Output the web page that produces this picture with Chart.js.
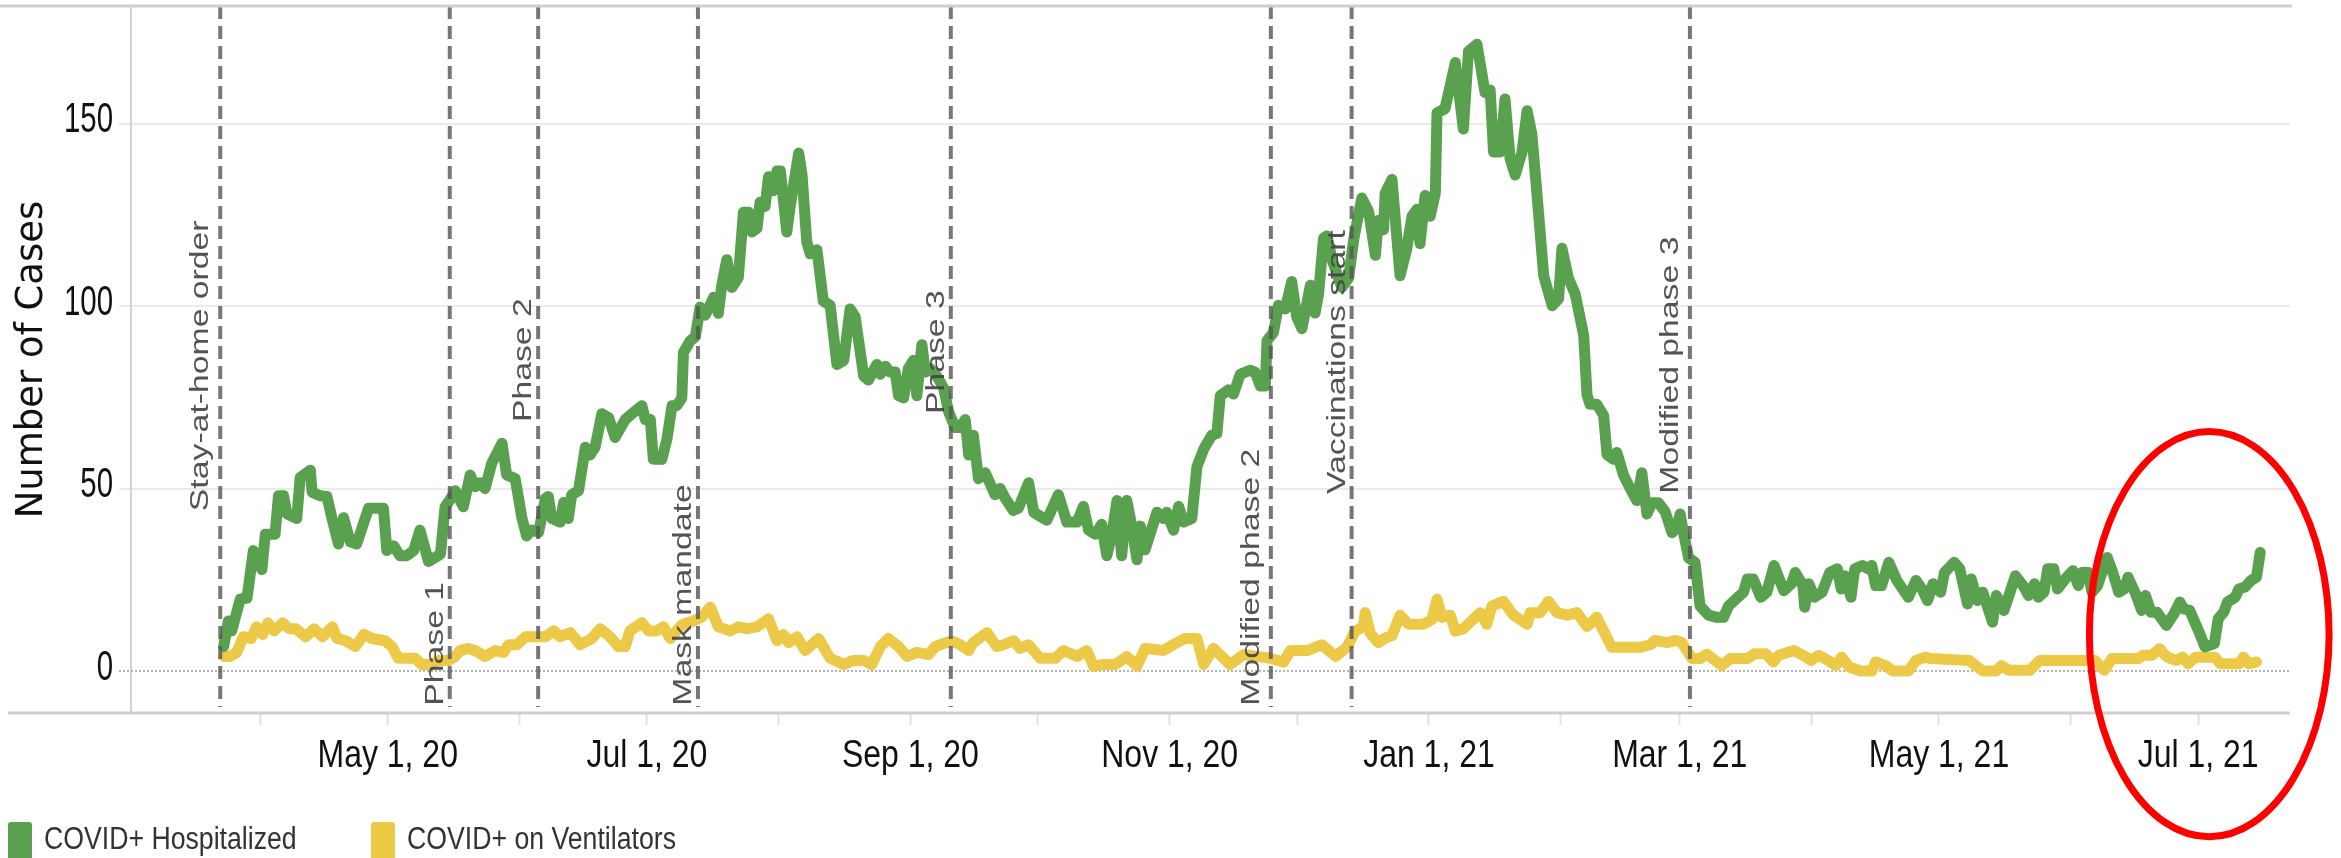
<!DOCTYPE html>
<html>
<head>
<meta charset="utf-8">
<title>COVID+ hospital census</title>
<script src="https://cdn.jsdelivr.net/npm/chart.js@4.4.1/dist/chart.umd.min.js"></script>
<style>
  html, body { margin: 0; padding: 0; background: #fff; }
  canvas { display: block; }
</style>
</head>
<body>
<canvas id="chart" width="2341" height="858"></canvas>
<script>
// x values are days since 1 Mar 2020
const hospDays = [
  22.4, 23.5, 24.3, 26.3, 27.9, 29.4, 31.4, 32.2, 34.5, 35.3,
  36.5, 37.3, 39.6, 40.4, 42.8, 43.2, 45.1, 46.7, 47.9, 49.4,
  50.6, 52.2, 53.7, 56.5, 60, 60.8, 62.4, 63.9, 65.5, 67.1,
  68.6, 70.6, 73.4, 74.5, 75.7, 76.9, 78.8, 80.4, 81.6, 82.8,
  83.9, 85.5, 87.9, 89, 91, 92.6, 93.7, 94.9, 96.5, 98.1,
  98.8, 99.6, 101.6, 102.4, 103.5, 104.3, 105.9, 107.5, 108.6, 109.8,
  111.4, 113, 114.5, 116.9, 118.5, 120.8, 121.6, 122.8, 123.5, 125.5,
  126.7, 127.9, 129, 130.2, 130.6, 132.2, 133.4, 134.5, 135.7, 137.7,
  138.8, 139.6, 140.8, 142, 143.5, 144.7, 145.9, 146.7, 147.9, 148.6,
  149.8, 150.6, 151.8, 152.6, 153.4, 154.9, 155.7, 157.7, 158.5, 159.6,
  160.4, 162, 163.5, 165.1, 166.7, 168.3, 169.8, 171, 173, 174.1,
  176.1, 176.9, 178.1, 179.2, 180.4, 181.2, 182.4, 183.5, 184.7, 185.5,
  186.7, 187.5, 188.6, 190.2, 191.8, 193, 194.5, 195.7, 196.9, 197.7,
  198.8, 200, 201.6, 203.9, 205.1, 206.3, 208.2, 209.4, 211.8, 213,
  214.5, 216.1, 218.8, 220.8, 223.2, 224.7, 225.9, 227.5, 229, 230.2,
  231.4, 232.6, 233.7, 234.9, 236.1, 237.3, 238.1, 239.2, 242, 243.5,
  244.3, 245.9, 247.1, 248.3, 250.2, 251.4, 253, 254.9, 256.1, 256.9,
  258.8, 260, 261.6, 263.9, 265.1, 266.3, 267.5, 267.9, 269.4, 270.6,
  272.2, 273.7, 274.9, 276.1, 278.1, 279.2, 280, 281.2, 282, 283.2,
  285.5, 287.1, 288.3, 290.2, 291.8, 293.4, 294.1, 295.3, 295.7, 297.3,
  299.2, 300.8, 302, 303.2, 303.9, 305.1, 306.3, 307.5, 307.9, 309.8,
  312.2, 314.1, 315.3, 317.3, 319.2, 320.4, 321.2, 322.8, 323.9, 325.1,
  326.3, 327.9, 329.1, 330.2, 331.4, 333, 335, 336.5, 337.3, 338.8,
  340.4, 342.4, 343.2, 343.9, 345.5, 347.1, 347.9, 349.4, 350.2, 351.8,
  353.4, 354.9, 356.1, 357.3, 358.5, 360, 361.6, 363.2, 364.3, 365.1,
  365.9, 367.1, 368.6, 369.8, 371.8, 373.7, 375.3, 376.5, 378.7, 380,
  380.9, 382.3, 384.1, 385.5, 387.2, 389.5, 391.3, 392.2, 394, 394.4,
  395.4, 396.7, 398.5, 400.3, 402.1, 403, 403.9, 405.3, 406.2, 408,
  409.3, 410.2, 411.1, 412.5, 414.2, 416.1, 418.8, 420.6, 422, 423.3,
  424.6, 426.4, 427.3, 429.6, 430.9, 432.7, 433.6, 435, 436.3, 438.6,
  439.5, 441.3, 444, 445.8, 447.1, 448.5, 449.4, 450.7, 451.6, 453,
  453.9, 455.7, 457.5, 458.8, 459.7, 461.1, 462, 463.3, 465.6, 466.9,
  468.3, 469.6, 470.5, 472.3, 473.7, 474.6, 475.9, 477.3, 479.5, 481.3,
  482.7, 483.6, 485, 487.2, 488.6, 490.8, 491.7, 493, 493.9, 495.7,
  496.6, 498, 499.4, 500.7, 501.6
];
const hospCounts = [
  6.7, 13.7, 11, 19.7, 20, 33, 27.8, 37.5, 37.5, 48,
  48, 43, 41.8, 53, 55, 49, 48, 47.8, 41.8, 34.8,
  42, 35.4, 34.8, 44.6, 44.6, 33, 34.3, 31.6, 31.6, 33,
  38.6, 30, 32, 45, 47, 49.4, 45, 53.7, 50.5, 51.6,
  50, 57, 62.4, 53.7, 52.7, 41.8, 37, 38.6, 38, 47.3,
  47.8, 41.8, 40.8, 46.2, 41.8, 48.3, 49.4, 61.3, 59.2, 61.3,
  70.5, 69.4, 64, 68.9, 70.5, 72.7, 68.9, 68.9, 58, 58,
  63.5, 72.7, 72.7, 74.8, 87.3, 90.5, 91.6, 99.7, 97.5, 102.4,
  98, 105.7, 112.7, 105.1, 107.8, 125.7, 125.7, 120.3, 121.3, 128.4,
  127.3, 135.4, 131.6, 137, 137, 120.3, 127.3, 141.9, 135.9, 117.6,
  114.3, 115.4, 101.3, 100.2, 84, 85.1, 99.2, 97, 80.8, 79.7,
  84, 81.3, 83.5, 81.9, 81.9, 75.4, 74.8, 82.9, 85.1, 75.4,
  89.4, 81.9, 82.9, 80.8, 77.5, 71, 66.7, 66.7, 68.9, 59.2,
  64.6, 52.7, 54.3, 48.3, 50, 47.3, 44, 44.6, 51.6, 43.5,
  42.4, 41.3, 48.3, 40.8, 40.8, 45.1, 38.6, 37.5, 40.2, 31.6,
  37.5, 46.7, 31.6, 46.7, 39.7, 30.5, 39.7, 33.2, 43.5, 41.8,
  43.5, 38.6, 45.1, 40.8, 41.8, 55.9, 60.8, 64.6, 65.1, 75.4,
  77, 75.9, 81.3, 82.4, 81.9, 78.1, 78.1, 90.5, 92.7, 100.2,
  99.2, 106.7, 97, 93.8, 105.7, 98.1, 103, 118.6, 119.2, 112.7,
  105.1, 107.7, 118.3, 129.6, 125.9, 113.9, 123.4, 120.9, 130.9, 134.7,
  108.3, 115.8, 124.6, 126.5, 117.1, 130.3, 124.6, 130.9, 152.9, 154.1,
  166.7, 148.5, 169.8, 171.7, 158.5, 159.2, 142.2, 142.2, 156.7, 140.3,
  135.9, 142.2, 153.5, 147.2, 130.9, 108.3, 100.1, 102, 115.8, 107.7,
  103.3, 92, 75.6, 73.1, 73.1, 70, 59.3, 58, 59.9, 53.6,
  49.9, 46.7, 54.3, 43, 46.1, 46.1, 43.6, 37.9, 39.2, 43,
  37.9, 31, 29.8, 17.8, 15.3, 14.7, 14.7, 17.8, 20.2, 21.6,
  25.2, 25.2, 20.2, 21.6, 28.9, 22, 23.9, 27, 23.4, 17.5,
  23.9, 20.2, 21.6, 27, 28, 22.5, 26.1, 20.2, 28, 28.9,
  28, 28.9, 23.4, 23.4, 29.8, 24.8, 20.2, 24.8, 22.5, 19.3,
  23.9, 21.6, 27, 29.8, 28, 18.4, 25.2, 19.3, 21.6, 13.4,
  20.7, 16.6, 26.1, 23.4, 20.7, 23.9, 20.2, 21.6, 28, 28,
  22.5, 25.2, 27.5, 23.4, 27, 27, 21.6, 23.4, 31.1, 27,
  21.6, 22.5, 25.7, 21.1, 16.6, 20.7, 16.1, 16.1, 12.5, 15.7,
  18.9, 17, 16.6, 10.7, 6.6, 7.5, 14.3, 16.1, 18.9, 20.2,
  22.5, 23, 24.8, 25.7, 32.5
];

const ventDays = [
  22.4, 23.9, 25.5, 27, 28.9, 30.1, 31.6, 32.8, 34.3, 36.3,
  37.8, 39.4, 41.7, 43.7, 45.6, 48, 49.1, 51.1, 53.4, 55.4,
  57.3, 60.4, 62, 63.5, 67.5, 69, 71.4, 72.9, 75.3, 76.9,
  78, 80, 81.6, 83.9, 86.3, 88.3, 89.4, 91.4, 93.4, 94.9,
  98.1, 100.1, 101.6, 104, 106.3, 109, 111, 113.3, 115.3, 116.9,
  118, 120.8, 122.4, 124.3, 125.9, 127.5, 130.2, 132.9, 134.9, 136.9,
  138.8, 141.6, 143.5, 145.5, 147.9, 150.6, 152.6, 154.1, 155.3, 157.3,
  159.2, 162.4, 165.1, 168.3, 170.6, 173, 174.9, 176.9, 178.8, 181.2,
  183.2, 185.5, 188.3, 189.8, 191, 193.7, 195.7, 197.7, 198.8, 202,
  204.3, 205.9, 208.3, 209.8, 211.8, 214.5, 218.1, 220, 223.2, 225.5,
  227.1, 229.4, 232.2, 234.9, 237.3, 239.2, 243.5, 246.7, 248.6, 251.4,
  253, 255.3, 259.2, 262.4, 265.5, 268.6, 271.8, 273.4, 277.3, 280.8,
  284, 286.7, 288.6, 290.6, 291, 292.2, 294.1, 295.7, 297.3, 299.2,
  301.2, 304.7, 306.7, 307.9, 309, 311, 312.2, 314.1, 315.7, 318.1,
  319.6, 320.8, 323.5, 325.9, 329.1, 329.8, 332.2, 334.1, 336.1, 338.5,
  340.8, 343.2, 345.5, 349, 355.7, 358.1, 359.2, 362, 364, 365.5,
  367.9, 369.8, 371.4, 374.9, 376.9, 380.9, 382.6, 385.3, 387, 388.3,
  391.9, 394.1, 395.9, 397.7, 399.9, 401.7, 403.1, 404.9, 407.6, 410.2,
  411.1, 413.4, 415.2, 418.8, 420.6, 422.8, 424.1, 433.1, 436.3, 439.4,
  440.7, 442.5, 447.4, 449.7, 462.7, 464.9, 466.7, 473, 473.9, 476.1,
  477.9, 479.7, 481.9, 483.3, 484.6, 486.4, 490.9, 492.2, 496.7, 497.6,
  499, 500.7
];
const ventCounts = [
  4, 4, 5.1, 9.4, 8.9, 12.1, 10, 13.2, 11, 13.2,
  11.6, 11.6, 9.4, 11.6, 9.4, 12.1, 8.9, 8.3, 6.7, 10,
  8.9, 8.3, 6.7, 3.5, 3.5, 1.8, 1.8, 2.9, 2.9, 4,
  5.6, 6.2, 5.6, 4, 5.6, 5.1, 7.2, 7.2, 9.4, 9.4,
  9.4, 11, 9.4, 10.5, 7.2, 8.9, 11.6, 9.4, 6.7, 6.7,
  11, 13.2, 11, 11, 12.1, 8.9, 12.7, 13.7, 14.8, 17.5,
  12.1, 11, 12.1, 11.6, 12.1, 14.3, 8.3, 10, 7.8, 9.4,
  5.6, 8.9, 3.5, 1.8, 2.9, 2.9, 1.8, 6.7, 8.9, 6.7,
  4, 5.1, 4.5, 6.7, 7.2, 8.3, 7.2, 5.6, 7.8, 10.5,
  6.7, 7.2, 8.3, 6.2, 7.2, 3.5, 3.5, 5.6, 4, 5.6,
  1.3, 1.8, 1.8, 4, 1.3, 6.2, 5.6, 7.8, 8.9, 8.9,
  1.8, 6.2, 1.8, 4.5, 4, 3.5, 2.4, 5.6, 5.6, 7.2,
  4, 6.5, 10.9, 12.2, 16, 10.3, 7.8, 9, 9.7, 15.3,
  12.8, 12.8, 14.1, 19.7, 14.7, 15.3, 10.9, 11.6, 13.4, 16,
  12.8, 17.8, 19.1, 15.3, 12.8, 16, 16, 19.1, 16, 15.3,
  16, 12.2, 14.7, 6.5, 6.5, 7.2, 8.4, 7.8, 8.4, 7.8,
  3.4, 3.4, 4.6, 1.5, 3.4, 3.4, 4.7, 4.7, 2.5, 4.3,
  5.6, 4.3, 2.9, 4.3, 2.9, 1.5, 3.8, 1.1, 0, 0,
  2.5, 1.5, 0, 0, 2.9, 3.8, 3.4, 2.9, 0, 0,
  1.5, 0.2, 0.2, 2.9, 2.9, 0.2, 3.4, 3.4, 4.3, 4.3,
  6.1, 3.8, 2.9, 3.8, 2, 3.8, 3.8, 2, 2, 3.8,
  2, 2.5
];

const eventDays = [21.6, 75.6, 96.4, 134, 193.5, 268.8, 287.8, 367.4];
const eventNames = ['Stay-at-home order', 'Phase 1', 'Phase 2', 'Mask mandate',
  'Phase 3', 'Modified phase 2', 'Vaccinations start', 'Modified phase 3'];

const monthStarts = [31, 61, 92, 122, 153, 184, 214, 245, 275, 306, 337, 365, 396, 426, 457, 487];
const monthLabels = ['', 'May 1, 20', '', 'Jul 1, 20', '', 'Sep 1, 20', '', 'Nov 1, 20',
  '', 'Jan 1, 21', '', 'Mar 1, 21', '', 'May 1, 21', '', 'Jul 1, 21'];
const yTicks = [0, 50, 100, 150];

// where each event label starts (value on the y axis)
const eventLabelAt = [43.8, -9.5, 68.2, -9.5, 70.4, -9.5, 48.5, 48.6];
// red highlight ring: centre (day, count) and radii
const ring = { day: 489.6, count: 10.1, rDays: 28.2, rCount: 55.5 };

const SANS = "'Liberation Sans', Arial, sans-serif";

// text squeezed sideways, the reference uses a condensed face
function squeezedText(ctx, text, x, y, sx, align) {
  ctx.save();
  ctx.translate(x, y);
  ctx.scale(sx, 1);
  ctx.textAlign = align;
  ctx.fillText(text, 0, 0);
  ctx.restore();
}

const overlay = {
  id: 'overlay',
  beforeDatasetsDraw(chart) {
    const { ctx, chartArea: a, scales: { y } } = chart;
    const y0 = y.getPixelForValue(0);
    ctx.save();
    ctx.strokeStyle = '#b4b4b4';
    ctx.lineWidth = 2;
    ctx.setLineDash([2, 2]);
    ctx.beginPath();
    ctx.moveTo(a.left - 12, y0);
    ctx.lineTo(a.right, y0);
    ctx.stroke();
    ctx.restore();
  },
  afterDatasetsDraw(chart) {
    const { ctx, chartArea: a, scales: { x, y } } = chart;
    ctx.save();
    // event lines
    ctx.strokeStyle = 'rgba(85,85,85,0.8)';
    ctx.lineWidth = 4;
    ctx.setLineDash([13, 7]);
    eventDays.forEach(d => {
      const px = x.getPixelForValue(d);
      ctx.beginPath();
      ctx.moveTo(px, a.top);
      ctx.lineTo(px, a.bottom - 6);
      ctx.stroke();
    });
    ctx.setLineDash([]);
    // event labels, rotated
    ctx.font = '25px ' + SANS;
    ctx.fillStyle = 'rgba(68,68,68,0.92)';
    ctx.textAlign = 'left';
    ctx.textBaseline = 'alphabetic';
    eventNames.forEach((name, i) => {
      const px = x.getPixelForValue(eventDays[i]);
      const m = ctx.measureText(name);
      const bx = px - 7 - Math.max(0, m.actualBoundingBoxDescent);
      const by = y.getPixelForValue(eventLabelAt[i]);
      ctx.save();
      ctx.translate(bx, by);
      ctx.rotate(-Math.PI / 2);
      ctx.scale(1.35, 1);
      ctx.fillText(name, 0, 0);
      ctx.restore();
    });
    ctx.restore();
  },
  afterDraw(chart) {
    const { ctx, chartArea: a, scales: { x, y } } = chart;
    ctx.save();
    // frame: top rule and long bottom rule
    ctx.strokeStyle = '#cfcfcf';
    ctx.lineWidth = 3;
    ctx.beginPath();
    ctx.moveTo(0, a.top);
    ctx.lineTo(a.right + 2, a.top);
    ctx.moveTo(8, a.bottom);
    ctx.lineTo(a.right, a.bottom);
    ctx.stroke();

    // tick labels
    ctx.fillStyle = '#111';
    ctx.textBaseline = 'alphabetic';
    ctx.font = '39px ' + SANS;
    monthStarts.forEach((d, i) => {
      if (monthLabels[i]) squeezedText(ctx, monthLabels[i], x.getPixelForValue(d), a.bottom + 54, 0.82, 'center');
    });
    ctx.font = '42px ' + SANS;
    ctx.textBaseline = 'middle';
    yTicks.forEach(v => {
      squeezedText(ctx, String(v), a.left - 18, y.getPixelForValue(v) - 3, 0.7, 'right');
    });

    // legend
    const legendX = [8, 371];
    ctx.font = '31px ' + SANS;
    ctx.textBaseline = 'alphabetic';
    chart.data.datasets.forEach((ds, i) => {
      const lx = legendX[i];
      ctx.fillStyle = ds.borderColor;
      ctx.beginPath();
      ctx.roundRect(lx, 822, 24, 50, 3);
      ctx.fill();
      ctx.fillStyle = '#333';
      squeezedText(ctx, ds.label, lx + 36, 849, 0.86, 'left');
    });

    // red ring
    const cx = x.getPixelForValue(ring.day);
    const cy = y.getPixelForValue(ring.count);
    const rx = x.getPixelForValue(ring.day + ring.rDays) - cx;
    const ry = cy - y.getPixelForValue(ring.count + ring.rCount);
    ctx.strokeStyle = '#ff0000';
    ctx.lineWidth = 7;
    ctx.beginPath();
    ctx.ellipse(cx, cy, rx, ry, 0, 0, Math.PI * 2);
    ctx.stroke();
    ctx.restore();
  }
};

const lineStyle = { borderWidth: 11, pointRadius: 0, tension: 0, borderJoinStyle: 'round', borderCapStyle: 'round' };

new Chart(document.getElementById('chart'), {
  type: 'line',
  data: {
    datasets: [
      Object.assign({
        label: 'COVID+ Hospitalized',
        data: hospDays.map((d, i) => ({ x: d, y: hospCounts[i] })),
        borderColor: '#59a14f', backgroundColor: '#59a14f'
      }, lineStyle),
      Object.assign({
        label: 'COVID+ on Ventilators',
        data: ventDays.map((d, i) => ({ x: d, y: ventCounts[i] })),
        borderColor: '#edc948', backgroundColor: '#edc948'
      }, lineStyle)
    ]
  },
  options: {
    responsive: false,
    animation: false,
    layout: { padding: { top: 6, right: 51, left: 0, bottom: 0 } },
    plugins: { legend: { display: false }, tooltip: { enabled: false } },
    scales: {
      x: {
        type: 'linear', min: 0.6, max: 508.6,
        afterBuildTicks: s => { s.ticks = monthStarts.map(v => ({ value: v })); },
        afterFit: s => { s.height = 145; s.paddingLeft = 0; s.paddingRight = 0; },
        ticks: { display: false, autoSkip: false, maxRotation: 0 },
        grid: { drawOnChartArea: false, drawTicks: true, tickLength: 12, tickColor: '#e3e3e3', tickWidth: 2 },
        border: { display: false }
      },
      y: {
        type: 'linear', min: -11.5, max: 182.2,
        afterBuildTicks: s => { s.ticks = yTicks.map(v => ({ value: v })); },
        afterFit: s => { s.width = 131; s.paddingTop = 0; s.paddingBottom = 0; },
        ticks: { display: false },
        grid: {
          color: c => (c.tick && c.tick.value === 0) ? 'rgba(0,0,0,0)' : '#ebebeb',
          lineWidth: 2, tickLength: 12
        },
        border: { display: true, color: '#d2d2d2', width: 2 },
        title: {
          display: true, text: 'Number of Cases', color: '#111',
          font: { family: 'DejaVu Sans', size: 37 }, padding: { top: 10, bottom: 0 }
        }
      }
    }
  },
  plugins: [overlay]
});
</script>
</body>
</html>
